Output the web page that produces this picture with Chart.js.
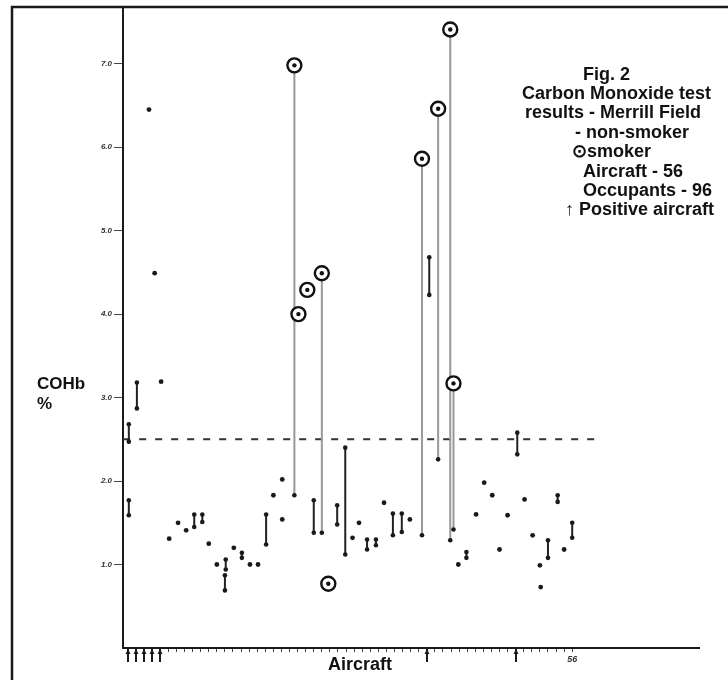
<!DOCTYPE html>
<html>
<head>
<meta charset="utf-8">
<script src="https://cdn.jsdelivr.net/npm/chart.js@4.4.0/dist/chart.umd.min.js"></script>
<style>
  html, body { margin: 0; padding: 0; background: #fff; }
  #wrap { width: 728px; height: 680px; position: relative; }
</style>
</head>
<body>
<div id="wrap"><canvas id="cohbChart" width="728" height="680"></canvas></div>
<script>
// COHb %; x = aircraft number (1..56)
const nonSmokerPoints = [
  [3.6, 6.45], [4.3, 4.49], [5.1, 3.19], [6.1, 1.31], [7.2, 1.50], [8.2, 1.41],
  [11.0, 1.25], [12.0, 1.00], [14.1, 1.20], [16.1, 1.00], [17.1, 1.00], [19.0, 1.83],
  [20.1, 2.02], [20.1, 1.54], [28.8, 1.32], [29.6, 1.50], [32.7, 1.74], [35.9, 1.54],
  [41.9, 1.00], [44.1, 1.60], [45.1, 1.98], [46.1, 1.83], [47.0, 1.18], [48.0, 1.59],
  [50.1, 1.78], [51.1, 1.35], [52.0, 0.99], [52.1, 0.73], [55.0, 1.18]
];

// [aircraft, lowest occupant, highest occupant]
const nonSmokerRanges = [
  [1.1, 2.47, 2.68], [1.1, 1.59, 1.77], [2.1, 2.87, 3.18], [9.2, 1.45, 1.60],
  [10.2, 1.51, 1.60], [13.1, 0.94, 1.06], [13.0, 0.69, 0.87], [15.1, 1.08, 1.14],
  [18.1, 1.24, 1.60], [24.0, 1.38, 1.77], [26.9, 1.48, 1.71], [27.9, 1.12, 2.40],
  [30.6, 1.18, 1.30], [31.7, 1.23, 1.30], [33.8, 1.35, 1.61], [34.9, 1.39, 1.61],
  [38.3, 4.23, 4.68], [42.9, 1.08, 1.15], [49.2, 2.32, 2.58], [53.0, 1.08, 1.29],
  [54.2, 1.75, 1.83], [56.0, 1.32, 1.50]
];

const smokerPoints = [
  [21.6, 6.98], [22.1, 4.00], [23.2, 4.29], [25.0, 4.49], [25.8, 0.77],
  [37.4, 5.86], [39.4, 6.46], [40.9, 7.41], [41.3, 3.17]
];

// aircraft with a smoker: [aircraft, lowest occupant, smoker]
const smokerRanges = [
  [21.6, 1.83, 6.98], [25.0, 1.38, 4.49], [37.4, 1.35, 5.86],
  [39.4, 2.26, 6.46], [40.9, 1.29, 7.41], [41.3, 1.42, 3.17]
];

const positiveAircraft = [1, 2, 3, 4, 5, 38, 49];
const thresholdCOHb = 2.5;
const thresholdSpan = [0.4, 59.2];
const yTickValues = [1, 2, 3, 4, 5, 6, 7];
const lastAircraft = 56;

function toPoints(list) {
  return list.map(p => ({ x: p[0], y: p[1] }));
}

// lo/hi pairs in one dataset; the joins between pairs are hidden
function rangeData(list) {
  const out = [];
  list.forEach(r => {
    out.push({ x: r[0], y: r[1] });
    out.push({ x: r[0], y: r[2] });
  });
  return out;
}

function rangeDataset(list, color, dotRadius) {
  return {
    type: 'scatter',
    data: rangeData(list),
    showLine: true,
    borderColor: color,
    borderWidth: 2,
    pointRadius: dotRadius,
    pointBackgroundColor: '#1a1a1a',
    pointBorderWidth: 0,
    segment: {
      borderColor: ctx => (ctx.p0DataIndex % 2 === 1 ? 'rgba(0,0,0,0)' : color)
    }
  };
}

const figureExtras = {
  id: 'figureExtras',
  afterDraw(chart) {
    const ctx = chart.ctx;
    const xs = chart.scales.x;
    const area = chart.chartArea;
    ctx.save();

    // scan frame
    ctx.strokeStyle = '#1a1a1a';
    ctx.lineWidth = 2.5;
    ctx.beginPath();
    ctx.moveTo(12, 680);
    ctx.lineTo(12, 7);
    ctx.lineTo(728, 7);
    ctx.stroke();

    // positive aircraft arrows under the axis
    ctx.fillStyle = '#1a1a1a';
    ctx.lineWidth = 2;
    positiveAircraft.forEach(n => {
      const px = Math.round(xs.getPixelForValue(n));
      ctx.beginPath();
      ctx.moveTo(px, area.bottom);
      ctx.lineTo(px, area.bottom + 14);
      ctx.stroke();
      ctx.beginPath();
      ctx.moveTo(px, area.bottom + 1);
      ctx.lineTo(px - 2.5, area.bottom + 6);
      ctx.lineTo(px + 2.5, area.bottom + 6);
      ctx.closePath();
      ctx.fill();
    });

    // text
    ctx.fillStyle = '#111';
    ctx.textBaseline = 'alphabetic';
    ctx.textAlign = 'left';
    ctx.font = 'bold 18px "Liberation Sans", Arial, sans-serif';
    const legendLines = [
      ['Fig. 2', 583, 80],
      ['Carbon Monoxide test', 522, 99],
      ['results - Merrill Field', 525, 118],
      ['- non-smoker', 575, 138],
      ['\u2299smoker', 572, 157],
      ['Aircraft - 56', 583, 177],
      ['Occupants - 96', 583, 196],
      ['\u2191 Positive aircraft', 565, 215]
    ];
    legendLines.forEach(l => ctx.fillText(l[0], l[1], l[2]));

    ctx.font = 'bold 17px "Liberation Sans", Arial, sans-serif';
    ctx.fillText('COHb', 37, 389);
    ctx.fillText('%', 37, 409);

    ctx.textAlign = 'center';
    ctx.font = 'bold 18px "Liberation Sans", Arial, sans-serif';
    ctx.fillText('Aircraft', 360, 670);
    ctx.restore();
  }
};

const chart = new Chart(document.getElementById('cohbChart').getContext('2d'), {
  type: 'scatter',
  data: {
    datasets: [
      {
        data: toPoints(smokerPoints),
        pointRadius: 2.2,
        pointBackgroundColor: '#111',
        pointBorderWidth: 0
      },
      {
        data: toPoints(smokerPoints),
        pointRadius: 7,
        pointBackgroundColor: '#fff',
        pointBorderColor: '#111',
        pointBorderWidth: 2.4
      },
      {
        data: toPoints(nonSmokerPoints),
        pointRadius: 2.4,
        pointBackgroundColor: '#1a1a1a',
        pointBorderWidth: 0
      },
      rangeDataset(nonSmokerRanges, '#222', 2.3),
      rangeDataset(smokerRanges, '#999', 2.3),
      {
        type: 'line',
        data: [
          { x: thresholdSpan[0], y: thresholdCOHb },
          { x: thresholdSpan[1], y: thresholdCOHb }
        ],
        borderColor: '#333',
        borderWidth: 2,
        borderDash: [7, 9],
        pointRadius: 0
      }
    ]
  },
  options: {
    responsive: false,
    animation: false,
    layout: { padding: { left: 0, right: 29, top: 7, bottom: 0 } },
    plugins: {
      legend: { display: false },
      tooltip: { enabled: false }
    },
    scales: {
      x: {
        type: 'linear',
        min: 0.38,
        max: 71.7,
        afterFit: s => { s.height = 32; },
        border: { display: true, color: '#1a1a1a', width: 2 },
        grid: {
          drawOnChartArea: false,
          tickLength: 4,
          color: c => (c.tick && c.tick.value >= 1 && c.tick.value <= lastAircraft ? '#444' : 'rgba(0,0,0,0)')
        },
        ticks: {
          stepSize: 1,
          includeBounds: false,
          autoSkip: false,
          maxRotation: 0,
          padding: 2,
          color: '#333',
          font: { family: 'Liberation Sans', size: 9, style: 'italic', weight: 'bold' },
          callback: v => (v === lastAircraft ? String(lastAircraft) : '')
        }
      },
      y: {
        min: 0,
        max: 7.65,
        afterFit: s => { s.width = 123; },
        border: { display: true, color: '#1a1a1a', width: 2 },
        grid: {
          drawOnChartArea: false,
          tickLength: 9,
          color: c => (c.tick && yTickValues.includes(c.tick.value) ? '#444' : 'rgba(0,0,0,0)')
        },
        ticks: {
          stepSize: 1,
          includeBounds: false,
          padding: 2,
          color: '#333',
          font: { family: 'Liberation Sans', size: 8, style: 'italic', weight: 'bold' },
          callback: v => (yTickValues.includes(v) ? v.toFixed(1) : '')
        }
      }
    }
  },
  plugins: [figureExtras]
});
</script>
</body>
</html>
